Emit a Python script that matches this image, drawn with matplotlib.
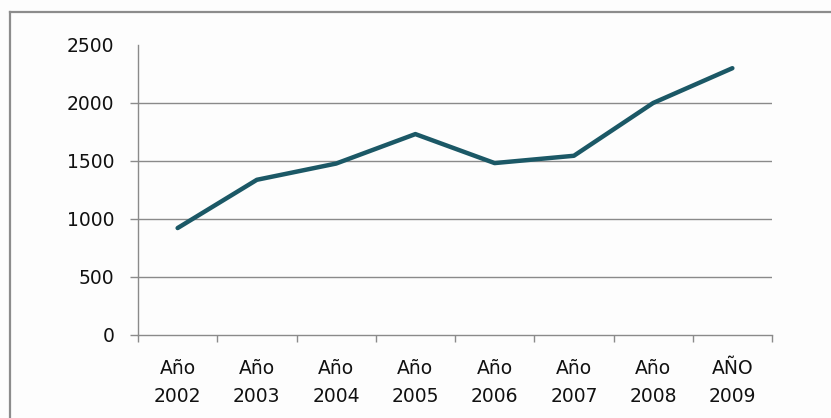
import matplotlib.pyplot as plt
from matplotlib.lines import Line2D

years = ["Año\n2002", "Año\n2003", "Año\n2004", "Año\n2005",
         "Año\n2006", "Año\n2007", "Año\n2008", "AÑO\n2009"]
values = [922, 1338, 1478, 1732, 1482, 1545, 2000, 2300]
yticks = [0, 500, 1000, 1500, 2000, 2500]

grid_color = "#8a8a8a"
line_color = "#1b5866"

fig = plt.figure(figsize=(8.31, 4.18), dpi=100, facecolor="#fdfdfd")
ax = fig.add_axes([138 / 831, 1 - 335 / 418, 634 / 831, 290 / 418])
ax.set_facecolor("#fdfdfd")

x = [i + 0.5 for i in range(len(values))]
ax.plot(x, values, color=line_color, lw=3.2, solid_capstyle="round",
        solid_joinstyle="round", zorder=3, clip_on=False)

ax.set_xlim(0, len(values))
ax.set_ylim(0, 2500)

ax.set_yticks(yticks)
ax.set_yticklabels([str(v) for v in yticks], fontsize=13.5, color="#111111")
ax.set_xticks(range(len(values) + 1))
ax.set_xticklabels([])
ax.set_xticks(x, minor=True)
ax.set_xticklabels(years, minor=True, fontsize=13.5, color="#111111",
                   linespacing=1.6)

ax.tick_params(axis="y", length=6, width=1, color=grid_color, pad=11)
ax.tick_params(axis="x", which="major", length=5, width=1, color=grid_color)
ax.tick_params(axis="x", which="minor", length=0, pad=17)
ax.yaxis.get_major_ticks()[-1].tick1line.set_visible(False)

for v in yticks[1:-1]:
    ax.axhline(v, color=grid_color, lw=1, zorder=1)

for s in ["top", "right"]:
    ax.spines[s].set_visible(False)
for s in ["left", "bottom"]:
    ax.spines[s].set_color(grid_color)
    ax.spines[s].set_linewidth(1)

# outer chart border (only top and left visible in the crop)
fig.add_artist(Line2D([10 / 831, 10 / 831], [0, 1 - 12 / 418],
                      transform=fig.transFigure, color="#8c8c8c", lw=1.6))
fig.add_artist(Line2D([10 / 831, 1], [1 - 12 / 418, 1 - 12 / 418],
                      transform=fig.transFigure, color="#8c8c8c", lw=1.6))

fig.savefig("out.png", dpi=100, facecolor=fig.get_facecolor())
